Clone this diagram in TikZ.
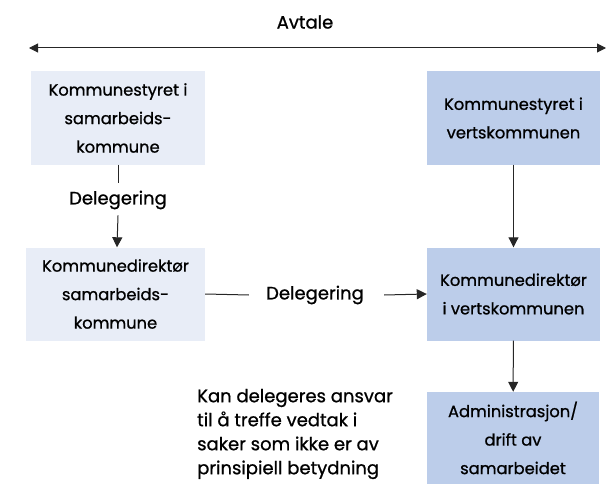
\documentclass[tikz,border=0pt]{standalone}
\usepackage{fontspec}
\setmainfont{Poppins}[BoldFont=Poppins, BoldFeatures={FakeBold=0.9}]
\usetikzlibrary{arrows.meta}

\definecolor{lysbla}{HTML}{E8EDF7}
\definecolor{mellombla}{HTML}{BCCDEA}

\tikzset{
  boks/.style={minimum width=174pt, minimum height=93pt, inner sep=2pt,
    align=center, font=\fontsize{16.3}{28.5}\selectfont\bfseries},
  etikett/.style={inner sep=3pt, font=\fontsize{18}{22}\selectfont\bfseries},
  pil/.style={-{Triangle[length=10pt,width=10pt]}, line width=1pt, draw=black!85},
  strek/.style={line width=1pt, draw=black!85}
}

\begin{document}
\begin{tikzpicture}[x=1pt,y=-1pt]
	\useasboundingbox (0,0) rectangle (608,503);
	% avtale
	\node[etikett] (avtale) at (305,22) {Avtale};
	\coordinate (venstre) at (29,48);
	\coordinate (hoyre) at (606,48);
	\draw[pil, {Triangle[length=9pt,width=9pt]}-{Triangle[length=9pt,width=9pt]}] (venstre) -- (hoyre);
	% samarbeidskommune
	\node[boks, fill=lysbla] (styre1) at (118,118) {Kommunestyret i\\samarbeids-\\kommune};
	\node[boks, fill=lysbla, minimum width=179pt] (direktor1) at (115.5,294) {Kommunedirektør\\samarbeids-\\kommune};
	\node[etikett] (deleg1) at (118,200) {Delegering};
	% vertskommunen
	\node[boks, fill=mellombla, minimum width=173pt] (styre2) at (513.5,118) {Kommunestyret i\\vertskommunen};
	\node[boks, fill=mellombla, minimum width=173pt] (direktor2) at (513.5,294) {Kommunedirektør\\i vertskommunen};
	\node[boks, fill=mellombla, minimum width=172pt, minimum height=92pt] (admin) at (513,438) {Administrasjon/\\drift av\\samarbeidet};
	\node[etikett] (deleg2) at (315,295) {Delegering};
	% merknad
	\node[etikett, align=left, anchor=west, font=\fontsize{18}{24}\selectfont\bfseries] (merknad) at (194,434)
	  {Kan delegeres ansvar\\til å treffe vedtak i\\saker som ikke er av\\prinsipiell betydning};
	% forbindelser
	\draw[strek] (styre1) -- ([yshift=5pt]deleg1.north);
	\draw[pil] ([yshift=-3pt]deleg1.south) -- (direktor1);
	\draw[strek] (direktor1.east) -- ([xshift=-14pt]deleg2.west);
	\draw[pil] ([xshift=17pt]deleg2.east) -- (direktor2.west);
	\draw[pil] (styre2) -- (direktor2);
	\draw[pil] (direktor2) -- (admin);
\end{tikzpicture}
\end{document}
